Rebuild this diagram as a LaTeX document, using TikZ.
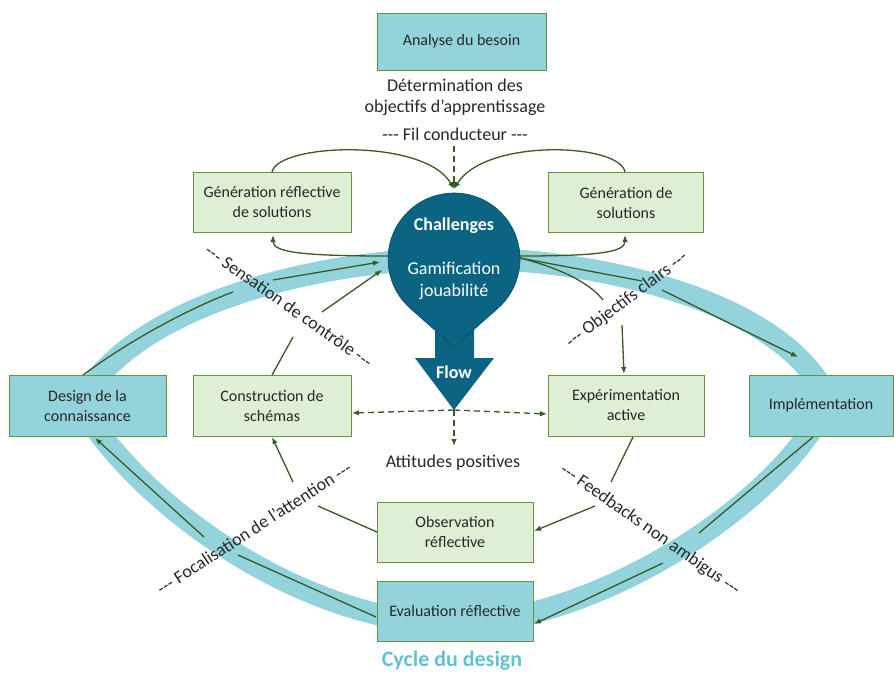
\documentclass[tikz,border=0pt]{standalone}
\usepackage{fontspec}
\setmainfont{Carlito}
\usetikzlibrary{arrows.meta}
\definecolor{boxblue}{RGB}{146,211,220}
\definecolor{boxgreen}{RGB}{222,239,214}
\definecolor{edgegreen}{RGB}{98,148,66}
\definecolor{arrowgreen}{RGB}{56,90,35}
\definecolor{dropteal}{RGB}{11,100,130}
\definecolor{txt}{RGB}{40,40,40}
\definecolor{cyclecol}{RGB}{95,195,210}
\newcommand\tdash{\mbox{-}\mbox{-}\mbox{-}}
\begin{document}
\begin{tikzpicture}[x=1pt,y=-1pt,
  bx/.style={draw=edgegreen, line width=0.9pt, align=center, text=txt,
    font=\fontsize{16}{20}\selectfont, inner sep=0pt},
  bluebox/.style={bx, fill=boxblue},
  greenbox/.style={bx, fill=boxgreen},
  conn/.style={draw=arrowgreen, line width=1.3pt},
  arr/.style={conn, -{Latex[length=7pt,width=5.5pt]}},
  darr/.style={arr, dash pattern=on 6pt off 4pt},
  lbl/.style={font=\fontsize{18}{21}\selectfont, text=txt, align=center, inner sep=0pt},
  band/.style={draw=boxblue, line width=22pt, line join=round}
]
\useasboundingbox (0,0) rectangle (894,673);

% design cycle band
\path[band] (80,405) .. controls (120,320) and (280,262) .. (454,258)
  .. controls (620,258) and (790,310) .. (828,400)
  .. controls (785,500) and (600,622) .. (454,624)
  .. controls (300,622) and (140,505) .. (80,405) -- cycle;

% boxes
\node[bluebox, minimum width=169pt, minimum height=57pt] (analyse) at (461.5,41.5) {Analyse du besoin};
\node[greenbox, minimum width=158pt, minimum height=60pt] (genr) at (272,202.5) {Génération réflective\\de solutions};
\node[greenbox, minimum width=155pt, minimum height=60pt] (gens) at (626,202.5) {Génération de\\solutions};
\node[greenbox, minimum width=158pt, minimum height=61pt] (constr) at (272,405.5) {Construction de\\schémas};
\node[greenbox, minimum width=156pt, minimum height=61pt] (exp) at (626,405.5) {Expérimentation\\active};
\node[bluebox, minimum width=157pt, minimum height=61pt] (design) at (87.5,405.5) {Design de la\\connaissance};
\node[bluebox, minimum width=144pt, minimum height=61pt] (impl) at (821,405.5) {Implémentation};
\node[greenbox, minimum width=156pt, minimum height=60pt] (obs) at (455,532) {Observation\\réflective};
\node[bluebox, minimum width=156pt, minimum height=60pt] (eval) at (455,611) {Evaluation réflective};

% Flow arrow and Challenges drop
\fill[dropteal] (435,320) -- (435,358) -- (415,358) -- (454,410) -- (494,358) -- (474,358) -- (474,320) -- cycle;
\coordinate (flowtip) at (454,410);
\filldraw[fill=dropteal, draw=dropteal!75!black, line width=0.6pt]
  (454,347) -- (410.4,308.5) arc[start angle=131.4, end angle=408.6, radius=66] -- cycle;
\node[circle, minimum size=132pt, inner sep=0pt] (ch) at (454,259) {};
\node[font=\fontsize{18}{21}\selectfont\bfseries, text=white] (chal) at (454,226) {Challenges};
\node[font=\fontsize{18}{22}\selectfont, text=white, align=center] (gam) at (454,281) {Gamification\\jouabilité};
\node[font=\fontsize{18}{21}\selectfont\bfseries, text=white] (flow) at (454,372) {Flow};

% texts
\node[lbl] (det) at (455,97) {Détermination des\\objectifs d’apprentissage};
\node[lbl] (fil) at (455,134) {\tdash{} Fil conducteur \tdash};
\node[lbl] (att) at (453,463) {Attitudes positives};
\node[font=\fontsize{22}{26}\selectfont\bfseries, text=cyclecol] (cyc) at (452,661) {Cycle du design};
\node[lbl, rotate=-35] (sens) at (289,306) {\tdash{} Sensation de contrôle \tdash};
\node[lbl, rotate=37] (obj) at (627,300) {\tdash{} Objectifs clairs \tdash};
\node[lbl, rotate=33] (foc) at (254,528) {\tdash{} Focalisation de l’attention \tdash};
\node[lbl, rotate=-35] (feed) at (650,530) {\tdash{} Feedbacks non ambigus \tdash};

% connector waypoints
\coordinate (ctop) at (454,189);
\coordinate (cl) at (388,256);
\coordinate (cr) at (520,256);
\coordinate (crr) at (520,258);
\coordinate (genrtop) at (272,172);
\coordinate (genstop) at (625,172);
\coordinate (genrbot) at (273,235);
\coordinate (gensbot) at (625,235);
\coordinate (filbot) at (454,146);

\coordinate (d1) at (83,375);   \coordinate (d2) at (233,292);
\coordinate (d3) at (273,280);  \coordinate (d4) at (380,262);
\coordinate (k1) at (272,375);  \coordinate (k2) at (293,337);
\coordinate (k3) at (322,312);  \coordinate (k4) at (382,270);
\coordinate (o1) at (377,532);  \coordinate (o2) at (318,506);
\coordinate (o3) at (293,482);  \coordinate (o4) at (272,437);
\coordinate (e1) at (633,437);  \coordinate (e2) at (611,482);
\coordinate (e3) at (595,506);  \coordinate (e4) at (534,531);
\coordinate (i1) at (813,437);  \coordinate (i2) at (699,533);
\coordinate (i3) at (663,563);  \coordinate (i4) at (534,624);
\coordinate (v1) at (376,617);  \coordinate (v2) at (238,555);
\coordinate (v3) at (204,537);  \coordinate (v4) at (95,438);
\coordinate (m1) at (642,281);  \coordinate (m2) at (662,290);
\coordinate (m3) at (798,357);
\coordinate (x1) at (603,300);  \coordinate (x2) at (622,325);
\coordinate (x3) at (624,374);
\coordinate (fl) at (352,413);  \coordinate (fr) at (547,414);
\coordinate (fd) at (454,446);

% connectors
\draw[conn] (d1) .. controls (130,340) and (190,308) .. (d2);
\draw[arr] (d3) -- (d4);
\draw[conn] (k1) -- (k2);
\draw[arr] (k3) -- (k4);
\draw[conn] (o1) -- (o2);
\draw[arr] (o3) -- (o4);
\draw[conn] (e1) -- (e2);
\draw[arr] (e3) -- (e4);
\draw[conn] (i1) -- (i2);
\draw[arr] (i3) -- (i4);
\draw[conn] (v1) -- (v2);
\draw[arr] (v3) -- (v4);
\draw[conn] (crr) -- (m1);
\draw[arr] (m2) -- (m3);
\draw[conn] (crr) .. controls (560,268) and (590,283) .. (x1);
\draw[arr] (x2) -- (x3);
\draw[arr] (cl) .. controls (300,256) and (273,252) .. (genrbot);
\draw[arr] (cr) .. controls (600,256) and (625,252) .. (gensbot);
\draw[arr] (genrtop) .. controls (278,143) and (425,138) .. (ctop);
\draw[arr] (genstop) .. controls (620,143) and (485,138) .. (ctop);
\draw[darr] (filbot) -- (ctop);
\draw[darr] (flowtip) -- (fl);
\draw[darr] (flowtip) -- (fr);
\draw[darr] (flowtip) -- (fd);
\end{tikzpicture}
\end{document}
